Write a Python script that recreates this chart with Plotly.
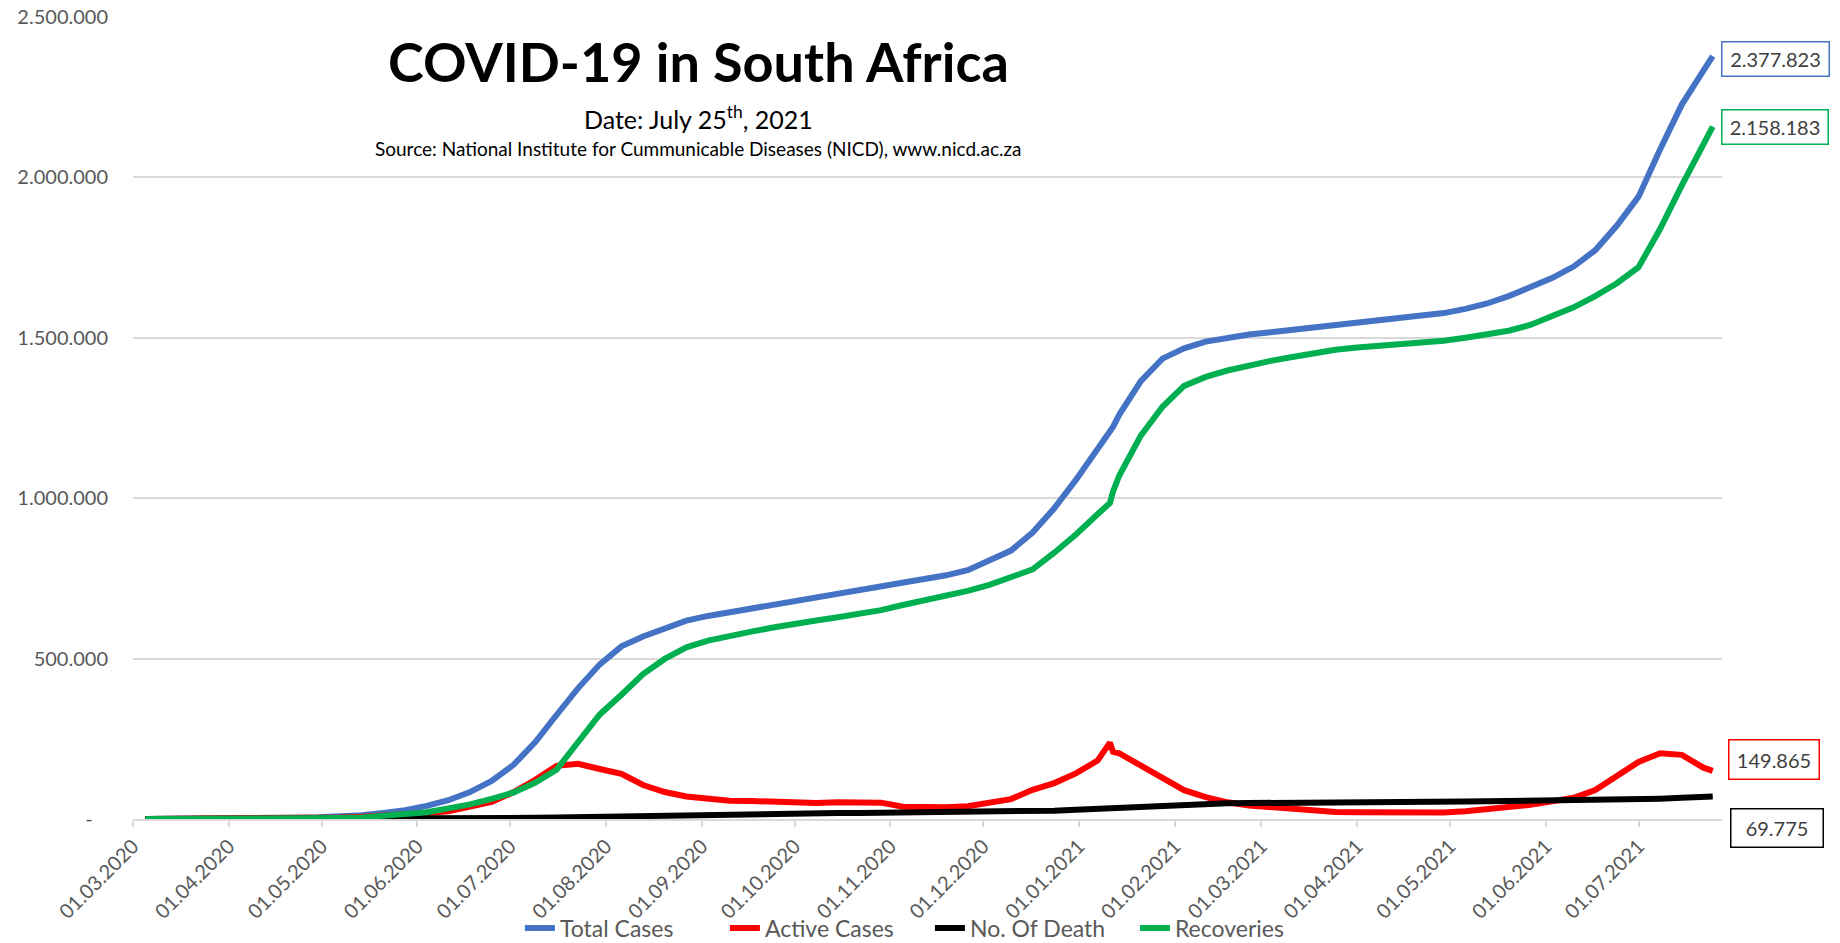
import plotly.graph_objects as go

dates = ["2020-03-05","2020-03-12","2020-03-19","2020-03-26",
         "2020-04-02","2020-04-09","2020-04-16","2020-04-23","2020-04-30",
         "2020-05-07","2020-05-14","2020-05-21","2020-05-28",
         "2020-06-04","2020-06-11","2020-06-18","2020-06-25",
         "2020-07-02","2020-07-09","2020-07-16","2020-07-23","2020-07-30",
         "2020-08-06","2020-08-13","2020-08-20","2020-08-27",
         "2020-09-03","2020-09-10","2020-09-17","2020-09-24",
         "2020-10-01","2020-10-08","2020-10-15","2020-10-22","2020-10-29",
         "2020-11-05","2020-11-12","2020-11-19","2020-11-26",
         "2020-12-03","2020-12-10","2020-12-17","2020-12-24","2020-12-31",
         "2021-01-07","2021-01-11","2021-01-12","2021-01-14","2021-01-21","2021-01-28",
         "2021-02-04","2021-02-11","2021-02-18","2021-02-25",
         "2021-03-04","2021-03-11","2021-03-18","2021-03-25",
         "2021-04-01","2021-04-08","2021-04-15","2021-04-22","2021-04-29",
         "2021-05-06","2021-05-13","2021-05-20","2021-05-27",
         "2021-06-03","2021-06-10","2021-06-17","2021-06-24",
         "2021-07-01","2021-07-08","2021-07-15","2021-07-22","2021-07-25"]

total_cases = [1, 17, 150, 927,
               1462, 1934, 2605, 3953, 5647,
               8232, 12074, 19137, 27403,
               40792, 58568, 83890, 118375,
               168061, 238339, 324221, 408052, 482169,
               538184, 568919, 596060, 618286,
               633015, 644438, 655572, 667049,
               677833, 686891, 700203, 710515, 721770,
               735027, 746945, 759658, 775502,
               805804, 836764, 892813, 968563, 1057161,
               1150000, 1203000, 1222000, 1260000, 1365000, 1435000,
               1467000, 1488000, 1500000, 1510000,
               1517000, 1524000, 1532000, 1541000,
               1549000, 1556000, 1562000, 1569000, 1577000,
               1590000, 1607000, 1630000, 1657000,
               1686000, 1722000, 1773000, 1850000,
               1940000, 2088000, 2227000, 2333000, 2377823]

active_cases = [1, 17, 150, 927,
                1407, 1821, 1654, 2405, 3162,
                4926, 7110, 9818, 12456,
                18633, 24106, 36733, 52998,
                83218, 121558, 165724, 172000, 156000,
                141000, 106000, 84000, 70000,
                62000, 57000, 56000, 53500,
                51000, 50000, 52000, 51500, 51000,
                38000, 36500, 37000, 40000,
                52000, 62000, 91000, 112000, 142000,
                182000, 238000, 210000, 205000, 168000, 130000,
                90000, 68000, 52000, 42000,
                36000, 30000, 25000, 22000,
                21000, 20500, 20000, 20000, 20500,
                24000, 30000, 36000, 44000,
                55000, 66000, 90000, 135000,
                178000, 205000, 200000, 160000, 149865]

deaths = [0, 0, 0, 0,
          5, 18, 48, 75, 103,
          153, 219, 369, 577,
          848, 1210, 1737, 2340,
          2844, 3720, 4804, 6093, 7812,
          10210, 11270, 12843, 13502,
          14889, 15427, 15953, 16376,
          17016, 17863, 18492, 18944, 19276,
          19749, 20206, 20671, 21201,
          21803, 22747, 23827, 25983, 28469,
          31809, 34334, 34974, 35852, 39501, 42550,
          45605, 47145, 48708, 49784,
          50677, 51015, 51724, 52602,
          53111, 53498, 53940, 54200, 54417,
          54735, 55012, 55507, 56101,
          56832, 57410, 58326, 59621,
          61029, 63499, 66000, 68600, 69775]

recoveries = [0, 0, 0, 0,
              50, 95, 903, 1473, 2382,
              3153, 4745, 8950, 14370,
              21311, 33252, 45420, 63037,
              81999, 113061, 153693, 240000, 326000,
              387316, 452000, 499000, 535000,
              556000, 572000, 584000, 597000,
              610000, 619000, 629000, 640000, 651000,
              667000, 681000, 695000, 711000,
              730000, 752000, 778000, 830000, 886671,
              950000, 985000, 1020000, 1070000, 1195000, 1285000,
              1350000, 1378000, 1398000, 1415000,
              1428000, 1440000, 1452000, 1463000,
              1470000, 1475000, 1480000, 1485000, 1491000,
              1500000, 1510000, 1522000, 1540000,
              1566000, 1595000, 1630000, 1670000,
              1720000, 1840000, 1975000, 2100000, 2158183]

x_tick_dates = ["2020-03-01","2020-04-01","2020-05-01","2020-06-01","2020-07-01",
                "2020-08-01","2020-09-01","2020-10-01","2020-11-01","2020-12-01",
                "2021-01-01","2021-02-01","2021-03-01","2021-04-01","2021-05-01",
                "2021-06-01","2021-07-01"]
x_tick_labels = ["01.03.2020","01.04.2020","01.05.2020","01.06.2020","01.07.2020",
                 "01.08.2020","01.09.2020","01.10.2020","01.11.2020","01.12.2020",
                 "01.01.2021","01.02.2021","01.03.2021","01.04.2021","01.05.2021",
                 "01.06.2021","01.07.2021"]
y_tick_vals = [0, 500000, 1000000, 1500000, 2000000, 2500000]
y_tick_labels = ["-\u00a0\u00a0\u00a0", "500.000", "1.000.000", "1.500.000", "2.000.000", "2.500.000"]

series = [("Total Cases", total_cases, "#4472C4"),
          ("Active Cases", active_cases, "#FF0000"),
          ("No. Of Death", deaths, "#000000"),
          ("Recoveries", recoveries, "#00B050")]

FONT = "Lato"
fig = go.Figure()
for name, vals, col in series:
    fig.add_trace(go.Scatter(x=dates, y=vals, mode="lines", name=name,
                             line=dict(color=col, width=6)))

def fmt(v):
    return f"{v:,}".replace(",", ".")

# end labels: (series values, border colour, x shift, y shift, width, height)
end_labels = [(total_cases, "#4472C4", 8, -3, 100, 27),
              (recoveries, "#00B050", 8, 0, 99, 27),
              (active_cases, "#FF0000", 15, 11, 83, 32),
              (deaths, "#000000", 17, -31, 85, 31)]
for vals, col, xs, ys, w, h in end_labels:
    fig.add_annotation(x=dates[-1], y=vals[-1], xref="x", yref="y",
                       text=fmt(vals[-1]), showarrow=False,
                       xanchor="left", yanchor="middle", xshift=xs, yshift=ys,
                       width=w, height=h, align="center", valign="middle",
                       bordercolor=col, borderwidth=1.5, borderpad=3,
                       bgcolor="white",
                       font=dict(family=FONT, size=20, color="#404040"))

fig.add_annotation(x=0.356, y=0.944, xref="paper", yref="paper",
                   text="<b>COVID-19 in South Africa</b>", showarrow=False,
                   xanchor="center", yanchor="middle",
                   font=dict(family=FONT, size=54, color="black"))
fig.add_annotation(x=0.356, y=0.875, xref="paper", yref="paper",
                   text="Date: July 25<sup>th</sup>, 2021", showarrow=False,
                   xanchor="center", yanchor="middle",
                   font=dict(family=FONT, size=25, color="black"))
fig.add_annotation(x=0.356, y=0.836, xref="paper", yref="paper",
                   text="Source: National Institute for Cummunicable Diseases (NICD), www.nicd.ac.za",
                   showarrow=False, xanchor="center", yanchor="middle",
                   font=dict(family=FONT, size=19, color="black"))

fig.update_layout(
    width=1840, height=943,
    margin=dict(l=133, r=118, t=17, b=124, autoexpand=False),
    plot_bgcolor="white", paper_bgcolor="white",
    font=dict(family=FONT, color="#595959"),
    showlegend=True,
    legend=dict(orientation="h", x=0.2435, xanchor="left", y=-0.136, yanchor="middle",
                font=dict(family=FONT, size=23, color="#595959"),
                entrywidth=160, entrywidthmode="pixels",
                bgcolor="rgba(0,0,0,0)"),
    xaxis=dict(type="date", range=["2020-03-01", "2021-07-28"], automargin=False,
               tickmode="array", tickvals=x_tick_dates, ticktext=x_tick_labels,
               tickangle=-45, showgrid=False, zeroline=False,
               showline=True, linecolor="#d9d9d9", linewidth=1.5,
               ticks="outside", ticklen=6, tickcolor="#d9d9d9", tickwidth=1.5,
               tickfont=dict(family=FONT, size=20, color="#595959")),
    yaxis=dict(range=[0, 2500000], tickmode="array", tickvals=y_tick_vals, automargin=False,
               ticktext=y_tick_labels, showgrid=True, gridcolor="#d9d9d9",
               gridwidth=1.5, zeroline=False, showline=False, ticks="",
               ticklabelstandoff=24,
               tickfont=dict(family=FONT, size=20, color="#595959")),
)

fig.write_html("out.html", config={"displayModeBar": False},
               post_script="document.body.style.margin='0';document.body.style.overflow='hidden';")
